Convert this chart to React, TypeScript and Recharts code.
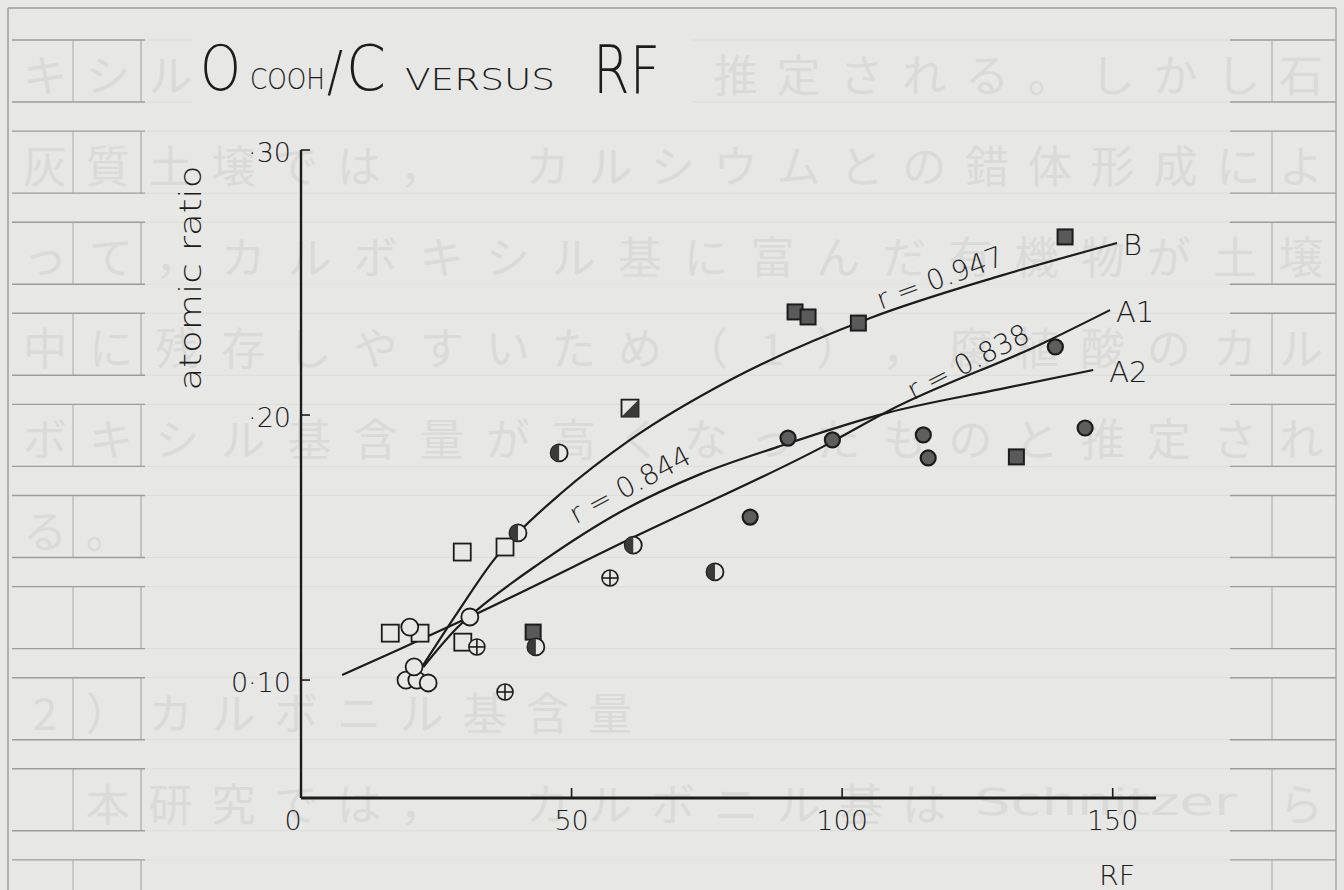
import { ComposedChart, Line, Scatter, XAxis, YAxis, ReferenceDot } from "recharts"

const W = 1344
const H = 890
const PAPER = "#e7e7e5"
const INK = "#1c1c1c"
const FAINT = "#dadad8"
const RULE = "#9c9c9a"
const FONT = "'DejaVu Sans', sans-serif"
const JP = "'Noto Sans CJK JP', sans-serif"

// fitted curves
const curveB = [
    { x: 22.0, y: 0.1038 }, { x: 29.0, y: 0.1257 }, { x: 35.9, y: 0.146 }, { x: 40.1, y: 0.1555 },
    { x: 47.9, y: 0.1702 }, { x: 60.8, y: 0.1906 }, { x: 79.3, y: 0.2132 }, { x: 105.2, y: 0.2366 },
    { x: 129.2, y: 0.2525 }, { x: 150.8, y: 0.2649 },
]
const curveA1 = [
    { x: 7.6, y: 0.1019 }, { x: 17.9, y: 0.1113 }, { x: 31.2, y: 0.1238 }, { x: 62.3, y: 0.1547 },
    { x: 96.3, y: 0.1879 }, { x: 108.9, y: 0.2019 }, { x: 137.2, y: 0.2272 }, { x: 149.5, y: 0.2396 },
]
const curveA2 = [
    { x: 22.6, y: 0.1049 }, { x: 29.0, y: 0.12 }, { x: 32.5, y: 0.1264 }, { x: 44.2, y: 0.1442 },
    { x: 59.0, y: 0.1634 }, { x: 73.8, y: 0.1777 }, { x: 88.0, y: 0.1879 }, { x: 108.3, y: 0.2008 },
    { x: 129.2, y: 0.2098 }, { x: 146.4, y: 0.217 },
]

// samples
const openCircles = [
    { x: 20.1, y: 0.12 }, { x: 19.4, y: 0.1 }, { x: 21.4, y: 0.1 }, { x: 23.5, y: 0.0989 },
    { x: 20.9, y: 0.105 }, { x: 31.2, y: 0.1238 },
]
const openSquares = [
    { x: 16.5, y: 0.1177 }, { x: 22.0, y: 0.1177 }, { x: 29.8, y: 0.1483 }, { x: 37.7, y: 0.1502 },
    { x: 29.9, y: 0.1143 },
]
const crossCircles = [{ x: 32.5, y: 0.1125 }, { x: 37.7, y: 0.0955 }, { x: 57.1, y: 0.1385 }]
const halfCircles = [
    { x: 40.1, y: 0.1555 }, { x: 43.4, y: 0.1125 }, { x: 47.7, y: 0.1857 }, { x: 61.4, y: 0.1509 },
    { x: 76.5, y: 0.1408 },
]
const darkCircles = [
    { x: 83.0, y: 0.1615 }, { x: 90.0, y: 0.1913 }, { x: 98.2, y: 0.1906 }, { x: 115.0, y: 0.1925 },
    { x: 115.9, y: 0.1838 }, { x: 139.4, y: 0.2257 }, { x: 144.9, y: 0.1951 },
]
const darkSquares = [
    { x: 91.3, y: 0.2389 }, { x: 93.7, y: 0.237 }, { x: 103.0, y: 0.2347 }, { x: 132.2, y: 0.1842 },
    { x: 141.2, y: 0.2672 }, { x: 42.9, y: 0.1181 },
]
const halfSquares = [{ x: 60.8, y: 0.2026 }]

const xTicks = [0, 50, 100, 150]
const yTicks = [0.1, 0.2, 0.3]
const yTickLabels = ["0·10", "·20", "·30"]

const rText = [
    { text: "r = 0.947", x: 118.1, y: 0.2517, angle: -20 },
    { text: "r = 0.838", x: 123.3, y: 0.22, angle: -27 },
    { text: "r = 0.844", x: 60.8, y: 0.1736, angle: -28 },
]
const endNames = ["B", "A1", "A2"]

// faint manuscript text on the paper behind the chart
const rowTexts = [
    "キシルなどの多いものと推定される。しかし石",
    "灰質土壌では，　カルシウムとの錯体形成によ",
    "って，カルボキシル基に富んだ有機物が土壌",
    "中に残存しやすいため（1），腐植酸のカル",
    "ボキシル基含量が高くなったものと推定され",
    "る。",
    "",
    "2）カルボニル基含量",
    "　本研究では，　カルボニル基は　　　　　ら",
]
const latinWord = "Schnitzer"

const rowTop = (i: number) => 40 + i * 91.1

function Paper() {
    const rows = Array.from({ length: 10 }, (_, i) => i)
    return (
        <svg width={W} height={H} style={{ position: "absolute", left: 0, top: 0 }}>
            <rect width={W} height={H} fill={PAPER} />
            <line x1={8} y1={8} x2={1336} y2={8} stroke={RULE} strokeWidth={1.5} />
            <line x1={8} y1={8} x2={8} y2={H} stroke={RULE} strokeWidth={1.5} />
            <line x1={1336} y1={8} x2={1336} y2={H} stroke={RULE} strokeWidth={1.2} />
            {rows.map((i) => (
                <g key={i}>
                    <line x1={145} y1={rowTop(i)} x2={1230} y2={rowTop(i)} stroke="#dcdcda" />
                    <line x1={145} y1={rowTop(i) + 62} x2={1230} y2={rowTop(i) + 62} stroke="#dcdcda" />
                    <line x1={12} y1={rowTop(i)} x2={145} y2={rowTop(i)} stroke={RULE} strokeWidth={1.4} />
                    <line x1={12} y1={rowTop(i) + 62} x2={145} y2={rowTop(i) + 62} stroke={RULE} strokeWidth={1.4} />
                    <line x1={73} y1={rowTop(i)} x2={73} y2={rowTop(i) + 62} stroke="#a8a8a6" />
                    <line x1={141} y1={rowTop(i)} x2={141} y2={rowTop(i) + 62} stroke={RULE} />
                    <line x1={1230} y1={rowTop(i)} x2={1336} y2={rowTop(i)} stroke={RULE} strokeWidth={1.4} />
                    <line x1={1230} y1={rowTop(i) + 62} x2={1336} y2={rowTop(i) + 62} stroke={RULE} strokeWidth={1.4} />
                    <line x1={1272} y1={rowTop(i)} x2={1272} y2={rowTop(i) + 62} stroke="#a8a8a6" />
                </g>
            ))}
            {rowTexts.map((row, r) => {
                const chars = Array.from(row)
                const step = chars.length >= 20 ? 1256 / (chars.length - 1) : 62.8
                return chars.map((c, i) =>
                    c === "　" ? null : (
                        <text key={`${r}-${i}`} x={45 + i * step} y={rowTop(r) + 33} textAnchor="middle"
                            dominantBaseline="central" fontFamily={JP} fontSize={44} fill={FAINT}>
                            {c}
                        </text>
                    )
                )
            })}
            <text x={975} y={rowTop(8) + 33} dominantBaseline="central" fontFamily={FONT} fontSize={38}
                fill={FAINT} textLength={262} lengthAdjust="spacingAndGlyphs">{latinWord}</text>

            {/* title label */}
            <rect x={192} y={36} width={500} height={70} fill={PAPER} />
            <g fontFamily={FONT} fill={INK} fontWeight={200}>
                <text x={200} y={90} fontSize={62} textLength={41} lengthAdjust="spacingAndGlyphs">O</text>
                <text x={250} y={89} fontSize={29} textLength={75} lengthAdjust="spacingAndGlyphs">COOH</text>
                <text x={327} y={90} fontSize={56} textLength={16} lengthAdjust="spacingAndGlyphs">/</text>
                <text x={346} y={90} fontSize={62} textLength={40} lengthAdjust="spacingAndGlyphs">C</text>
                <text x={405} y={90} fontSize={30} textLength={150} lengthAdjust="spacingAndGlyphs">VERSUS</text>
                <text x={593} y={93} fontSize={66} textLength={67} lengthAdjust="spacingAndGlyphs">RF</text>
                <text x={190} y={278} fontSize={30} textAnchor="middle" dominantBaseline="central"
                    transform="rotate(-90 190 278)" textLength={225} lengthAdjust="spacingAndGlyphs">atomic ratio</text>
                <text x={1099} y={885} fontSize={27} textLength={36} lengthAdjust="spacingAndGlyphs">RF</text>
            </g>
        </svg>
    )
}

const XTick = ({ x, y, payload }: any) => (
    <g>
        {payload.value !== 0 && <line x1={x} y1={y} x2={x} y2={y - 10} stroke={INK} strokeWidth={1.6} />}
        <text x={x - (payload.value === 0 ? 8 : 0)} y={y + 32} textAnchor="middle" fontSize={27}
            fontFamily={FONT} fontWeight={200} fill={INK}>{payload.value}</text>
    </g>
)

const YTick = ({ x, y, payload }: any) => {
    const i = yTicks.indexOf(payload.value)
    return (
        <g>
            <line x1={x} y1={y} x2={x + 9} y2={y} stroke={INK} strokeWidth={1.6} />
            <text x={x - 10} y={y + 2} dominantBaseline="central" textAnchor="end" fontSize={27}
                fontFamily={FONT} fontWeight={200} fill={INK}>{yTickLabels[i]}</text>
        </g>
    )
}

const openCircle = (p: any) => (
    <circle cx={p.cx} cy={p.cy} r={8.5} fill={PAPER} stroke={INK} strokeWidth={1.8} />
)
const openSquare = (p: any) => (
    <rect x={p.cx - 8.5} y={p.cy - 8.5} width={17} height={17} fill={PAPER} stroke={INK} strokeWidth={1.8} />
)
const crossCircle = (p: any) => (
    <g stroke={INK} strokeWidth={1.6}>
        <circle cx={p.cx} cy={p.cy} r={8} fill={PAPER} />
        <line x1={p.cx - 8} y1={p.cy} x2={p.cx + 8} y2={p.cy} />
        <line x1={p.cx} y1={p.cy - 8} x2={p.cx} y2={p.cy + 8} />
    </g>
)
const halfCircle = (p: any) => (
    <g>
        <circle cx={p.cx} cy={p.cy} r={8.5} fill={PAPER} stroke={INK} strokeWidth={1.8} />
        <path d={`M${p.cx},${p.cy - 8.5} A8.5,8.5 0 0 0 ${p.cx},${p.cy + 8.5} Z`} fill="#3a3a3a" />
    </g>
)
const darkCircle = (p: any) => (
    <circle cx={p.cx} cy={p.cy} r={7.5} fill="#5e5e5e" stroke={INK} strokeWidth={2.2} />
)
const darkSquare = (p: any) => (
    <rect x={p.cx - 7.5} y={p.cy - 7.5} width={15} height={15} fill="#5a5a5a" stroke={INK} strokeWidth={2} />
)
const halfSquare = (p: any) => (
    <g>
        <rect x={p.cx - 8.5} y={p.cy - 8.5} width={17} height={17} fill={PAPER} stroke={INK} strokeWidth={1.8} />
        <path d={`M${p.cx + 8.5},${p.cy - 8.5} L${p.cx + 8.5},${p.cy + 8.5} L${p.cx - 8.5},${p.cy + 8.5} Z`} fill="#3a3a3a" />
    </g>
)

const curves = [curveB, curveA1, curveA2]

export default function App() {
    return (
        <div style={{ position: "absolute", left: 0, top: 0, width: W, height: H, overflow: "hidden" }}>
            <Paper />
            <div style={{ position: "absolute", left: 0, top: 0 }}>
                <ComposedChart width={W} height={H} margin={{ top: 150, right: 188, bottom: 52, left: 241 }}>
                    <XAxis type="number" dataKey="x" domain={[0, 158]} ticks={xTicks} tick={<XTick />}
                        tickLine={false} tickSize={0} tickMargin={0} height={40} allowDataOverflow
                        axisLine={{ stroke: INK, strokeWidth: 3 }} />
                    <YAxis type="number" dataKey="y" domain={[0.0555, 0.3]} ticks={yTicks} tick={<YTick />}
                        tickLine={false} tickSize={0} tickMargin={0} width={60} allowDataOverflow
                        axisLine={{ stroke: INK, strokeWidth: 2.4 }} />
                    {curves.map((c, i) => (
                        <Line key={i} data={c} dataKey="y" type="monotone" stroke={INK} strokeWidth={2.2}
                            dot={false} isAnimationActive={false} />
                    ))}
                    <Scatter data={openSquares} dataKey="y" shape={openSquare} isAnimationActive={false} />
                    <Scatter data={darkSquares} dataKey="y" shape={darkSquare} isAnimationActive={false} />
                    <Scatter data={halfSquares} dataKey="y" shape={halfSquare} isAnimationActive={false} />
                    <Scatter data={openCircles} dataKey="y" shape={openCircle} isAnimationActive={false} />
                    <Scatter data={crossCircles} dataKey="y" shape={crossCircle} isAnimationActive={false} />
                    <Scatter data={halfCircles} dataKey="y" shape={halfCircle} isAnimationActive={false} />
                    <Scatter data={darkCircles} dataKey="y" shape={darkCircle} isAnimationActive={false} />
                    {rText.map((t) => (
                        <ReferenceDot key={t.text} x={t.x} y={t.y} r={0}
                            shape={(p: any) => (
                                <text x={p.cx} y={p.cy} textAnchor="middle" dominantBaseline="central"
                                    transform={`rotate(${t.angle} ${p.cx} ${p.cy})`} fontSize={28}
                                    fontFamily={FONT} fontWeight={200} fill={INK}>{t.text}</text>
                            )} />
                    ))}
                    {curves.map((c, i) => {
                        const last = c[c.length - 1]
                        return (
                            <ReferenceDot key={endNames[i]} x={last.x} y={last.y} r={0}
                                shape={(p: any) => (
                                    <text x={p.cx + (i === 2 ? 16 : 6)} y={p.cy + 2} dominantBaseline="central"
                                        fontSize={29} fontFamily={FONT} fontWeight={200} fill={INK}>{endNames[i]}</text>
                                )} />
                        )
                    })}
                </ComposedChart>
            </div>
        </div>
    )
}
